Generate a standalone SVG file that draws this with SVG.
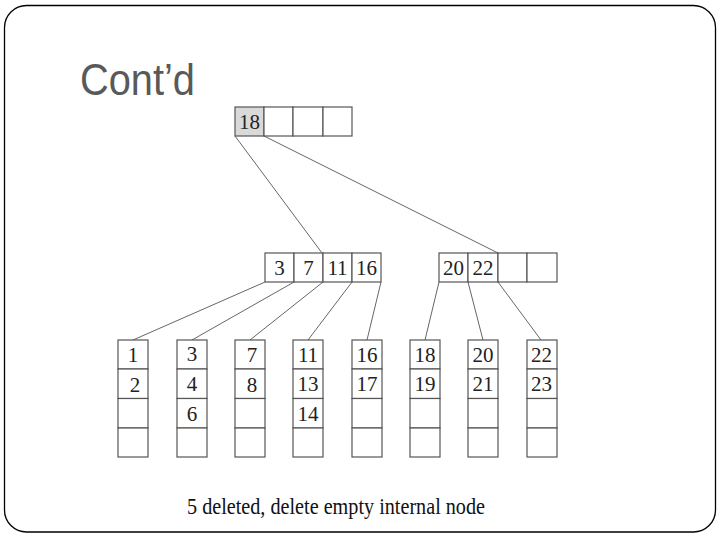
<svg xmlns="http://www.w3.org/2000/svg" width="720" height="540" viewBox="0 0 720 540">
<style>
.cell{fill:#fff;stroke:#555;stroke-width:1.2}
.hl{fill:#d9d9d9;stroke:#555;stroke-width:1.2}
.num{font-family:"Liberation Serif","Times New Roman",serif;font-size:21px;fill:#222;text-anchor:middle}
.edge{stroke:#666;stroke-width:1;fill:none}
</style>
<rect width="720" height="540" fill="#fff"/>
<rect x="4.5" y="5.5" width="711" height="526.5" rx="22" ry="22" fill="none" stroke="#000" stroke-width="1.3"/>
<text x="80" y="95" font-family="'Liberation Sans',Arial,sans-serif" font-size="44" fill="#595959" textLength="115" lengthAdjust="spacingAndGlyphs">Cont’d</text>
<g id="connectors">
<line class="edge" x1="235" y1="136" x2="322" y2="253"/>
<line class="edge" x1="264" y1="136" x2="498" y2="253"/>
<line class="edge" x1="265" y1="282" x2="133" y2="340"/>
<line class="edge" x1="294" y1="282" x2="192" y2="340"/>
<line class="edge" x1="323" y1="282" x2="250" y2="340"/>
<line class="edge" x1="352" y1="282" x2="308" y2="340"/>
<line class="edge" x1="381" y1="282" x2="367" y2="340"/>
<line class="edge" x1="439" y1="282" x2="425" y2="340"/>
<line class="edge" x1="468" y1="282" x2="483" y2="340"/>
<line class="edge" x1="498" y1="282" x2="541" y2="340"/>
</g>
<g id="root">
<rect class="hl" x="235" y="107" width="29" height="29"/>
<rect class="cell" x="264" y="107" width="29" height="29"/>
<rect class="cell" x="293" y="107" width="30" height="29"/>
<rect class="cell" x="323" y="107" width="29" height="29"/>
<text class="num" x="249.5" y="129">18</text>
</g>
<g id="internal-left">
<rect class="cell" x="265" y="253" width="29" height="29"/>
<rect class="cell" x="294" y="253" width="29" height="29"/>
<rect class="cell" x="323" y="253" width="29" height="29"/>
<rect class="cell" x="352" y="253" width="29" height="29"/>
<text class="num" x="279.5" y="275">3</text>
<text class="num" x="308.5" y="275">7</text>
<text class="num" x="337.5" y="275">11</text>
<text class="num" x="366.5" y="275">16</text>
</g>
<g id="internal-right">
<rect class="cell" x="439" y="253" width="29" height="29"/>
<rect class="cell" x="468" y="253" width="30" height="29"/>
<rect class="cell" x="498" y="253" width="29" height="29"/>
<rect class="cell" x="527" y="253" width="30" height="29"/>
<text class="num" x="453.5" y="275">20</text>
<text class="num" x="483" y="275">22</text>
</g>
<defs>
<g id="leafbox">
<rect class="cell" x="0" y="0" width="30" height="29"/>
<rect class="cell" x="0" y="29" width="30" height="29.5"/>
<rect class="cell" x="0" y="58.5" width="30" height="29.5"/>
<rect class="cell" x="0" y="88" width="30" height="29"/>
</g>
</defs>
<g id="leaf1"><use href="#leafbox" x="118" y="340"/><text class="num" x="133" y="362">1</text><text class="num" x="135" y="392">2</text></g>
<g id="leaf2"><use href="#leafbox" x="177" y="340"/><text class="num" x="192" y="361">3</text><text class="num" x="192" y="391">4</text><text class="num" x="192" y="421">6</text></g>
<g id="leaf3"><use href="#leafbox" x="235" y="340"/><text class="num" x="252" y="362">7</text><text class="num" x="252" y="392">8</text></g>
<g id="leaf4"><use href="#leafbox" x="293" y="340"/><text class="num" x="308" y="362">11</text><text class="num" x="308" y="391">13</text><text class="num" x="308" y="421">14</text></g>
<g id="leaf5"><use href="#leafbox" x="352" y="340"/><text class="num" x="367" y="362">16</text><text class="num" x="367" y="391">17</text></g>
<g id="leaf6"><use href="#leafbox" x="410" y="340"/><text class="num" x="425" y="362">18</text><text class="num" x="425" y="391">19</text></g>
<g id="leaf7"><use href="#leafbox" x="468" y="340"/><text class="num" x="483" y="362">20</text><text class="num" x="483" y="391">21</text></g>
<g id="leaf8"><use href="#leafbox" x="527" y="340"/><text class="num" x="541.5" y="362">22</text><text class="num" x="541.5" y="391">23</text></g>
<text x="187" y="514" font-family="'Liberation Serif','Times New Roman',serif" font-size="22.5" fill="#111" textLength="298" lengthAdjust="spacingAndGlyphs">5 deleted, delete empty internal node</text>
</svg>
